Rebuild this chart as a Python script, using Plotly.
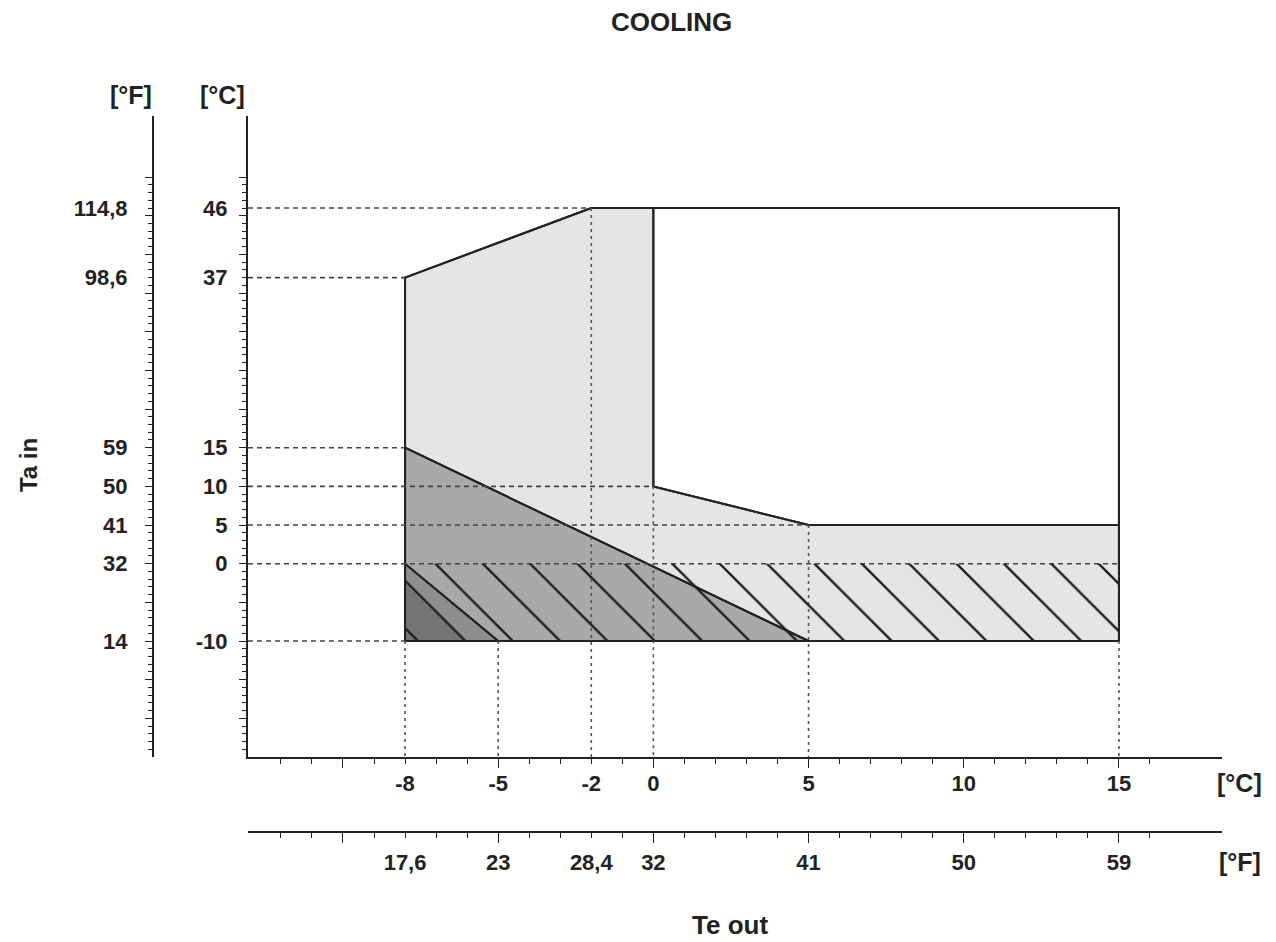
import plotly.graph_objects as go

# ---------------- data ----------------
# tick labels (x: Te out, y: Ta in)
te_c_ticks = [-8, -5, -2, 0, 5, 10, 15]
te_c_labels = ["-8", "-5", "-2", "0", "5", "10", "15"]
te_f_labels = ["17,6", "23", "28,4", "32", "41", "50", "59"]
ta_c_ticks = [46, 37, 15, 10, 5, 0, -10]
ta_c_labels = ["46", "37", "15", "10", "5", "0", "-10"]
ta_f_labels = ["114,8", "98,6", "59", "50", "41", "32", "14"]

te_minor = list(range(-12, 17))
te_major = [-10, -5, 0, 5, 10, 15]
ta_minor = list(range(-24, 51))
ta_major = list(range(-20, 51, 5))

# operating envelope
env_te = [-8, -8, -2, 15, 15, -8]
env_ta = [-10, 37, 46, 46, -10, -10]
# excluded (white) region
white_te = [0, 15, 15, 5, 0, 0]
white_ta = [46, 46, 5, 5, 10, 46]
# medium grey zone
med_te = [-8, 5, -8, -8]
med_ta = [15, -10, -10, 15]
# dark grey zone
dark_te = [-8, -5, -8, -8]
dark_ta = [0, -10, -10, 0]
# darkest zone
darkest_te = [-8, -6.1, -8, -8]
darkest_ta = [-2.6, -10, -10, -2.6]
# hatched zone
hatch_te = [-8, 15, 15, -8, -8]
hatch_ta = [0, 0, -10, -10, 0]

# dashed reference lines
h_ref_ta = [46, 37, 15, 10, 5, 0, -10]
h_ref_te_end = [-2, -8, -8, 0, 5, 15, -8]
v_ref_te = [-8, -5, -2, 0, 5, 15]
v_ref_ta_start = [-10, -10, 46, 10, 5, -10]

X_RANGE = [-13.06, 18.32]
Y_RANGE = [-25.0, 57.9]

# ---------------- figure ----------------
FONT = "Arial, Liberation Sans, sans-serif"
INK = "#222222"
fig = go.Figure()

def poly(xs, ys, fill, lw=2.0):
    fig.add_trace(go.Scatter(
        x=xs, y=ys, mode="lines", fill="toself", fillcolor=fill,
        line=dict(color=INK, width=lw), hoverinfo="skip", showlegend=False))

poly(env_te, env_ta, "#e5e5e6")
poly(white_te, white_ta, "#ffffff")
poly(med_te, med_ta, "#a9a9aa")
poly(dark_te, dark_ta, "#8e8e8f")
poly(darkest_te, darkest_ta, "#757577", lw=0)

# outlines
fig.add_trace(go.Scatter(x=med_te[:2], y=med_ta[:2], mode="lines",
                         line=dict(color=INK, width=2), hoverinfo="skip", showlegend=False))
fig.add_trace(go.Scatter(x=dark_te[:2], y=dark_ta[:2], mode="lines",
                         line=dict(color=INK, width=1.8), hoverinfo="skip", showlegend=False))
fig.add_trace(go.Scatter(x=env_te, y=env_ta, mode="lines",
                         line=dict(color=INK, width=2), hoverinfo="skip", showlegend=False))
fig.add_trace(go.Scatter(x=white_te, y=white_ta, mode="lines",
                         line=dict(color=INK, width=2), hoverinfo="skip", showlegend=False))

# dashed horizontals from the y-axis
hx, hy = [], []
for ta, te_end in zip(h_ref_ta, h_ref_te_end):
    hx += [X_RANGE[0], te_end, None]
    hy += [ta, ta, None]
fig.add_trace(go.Scatter(x=hx, y=hy, mode="lines",
                         line=dict(color="#444444", width=1.6, dash="5px,4px"),
                         hoverinfo="skip", showlegend=False))
# dashed verticals down to the x-axis
vx, vy = [], []
for te, ta0 in zip(v_ref_te, v_ref_ta_start):
    vx += [te, te, None]
    vy += [ta0, Y_RANGE[0], None]
fig.add_trace(go.Scatter(x=vx, y=vy, mode="lines",
                         line=dict(color="#555555", width=1.6, dash="3px,4px"),
                         hoverinfo="skip", showlegend=False))

# dummy traces so the extra axes render
for i in (2, 3, 4):
    fig.add_trace(go.Scatter(x=[None], y=[None], xaxis=f"x{i}", yaxis=f"y{i}",
                             showlegend=False, hoverinfo="skip"))

XDOM = [0.13028, 0.98768]
YDOM = [0.11456, 0.97844]
F_Y_POS = 0.04665
F_X_POS = 0.01348

# hatch drawn in a same-scale helper subplot whose origin is offset,
# so the pattern phase lines up with the reference drawing
PX_PER_C = 31.04
HATCH_SHIFT_PX = 24
paper_w = 1268 - 92 - 40
hatch_xdom = [XDOM[0] + HATCH_SHIFT_PX / paper_w, XDOM[1]]
hatch_xrange = [X_RANGE[0] + HATCH_SHIFT_PX / PX_PER_C, X_RANGE[1]]

fig.add_trace(go.Scatter(
    x=hatch_te, y=hatch_ta, mode="lines", fill="toself",
    xaxis="x5", yaxis="y5",
    fillcolor="rgba(0,0,0,0)",
    fillpattern=dict(shape="\\", fgcolor="#1e1e1e", bgcolor="rgba(0,0,0,0)",
                     size=33.5, solidity=0.07, fillmode="replace"),
    line=dict(width=0), hoverinfo="skip", showlegend=False))

tickfont = dict(family=FONT, size=22, color=INK, weight="bold")
base = dict(showgrid=False, zeroline=False, tickcolor=INK, tickwidth=1.4)

fig.update_layout(
    width=1268, height=934,
    margin=dict(l=92, r=40, t=92, b=100),
    paper_bgcolor="white", plot_bgcolor="rgba(0,0,0,0)",
    showlegend=False,
    xaxis=dict(**base, domain=XDOM, range=X_RANGE, anchor="y",
               showline=True, linecolor=INK, linewidth=2,
               ticks="outside", ticklen=5, tickmode="array",
               tickvals=te_c_ticks, ticktext=te_c_labels, tickfont=tickfont,
               ticklabelstandoff=1,
               minor=dict(tickmode="array", tickvals=te_minor, ticks="outside",
                          ticklen=5, tickwidth=1.2, tickcolor=INK)),
    xaxis2=dict(**base, overlaying="x", anchor="y", range=X_RANGE,
                ticks="outside", ticklen=10, tickmode="array", tickvals=te_major,
                showticklabels=False, showline=False),
    xaxis3=dict(**base, overlaying="x", anchor="free", position=F_X_POS,
                side="bottom", range=X_RANGE,
                showline=True, linecolor=INK, linewidth=2,
                ticks="outside", ticklen=5, tickmode="array",
                tickvals=te_c_ticks, ticktext=te_f_labels, tickfont=tickfont,
                ticklabelstandoff=6,
                minor=dict(tickmode="array", tickvals=te_minor, ticks="outside",
                           ticklen=5, tickwidth=1.2, tickcolor=INK)),
    xaxis4=dict(**base, overlaying="x", anchor="free", position=F_X_POS,
                side="bottom", range=X_RANGE,
                ticks="outside", ticklen=10, tickmode="array", tickvals=te_major,
                showticklabels=False, showline=False),
    xaxis5=dict(domain=hatch_xdom, range=hatch_xrange, anchor="y5", visible=False,
                showgrid=False, zeroline=False),
    yaxis=dict(**base, domain=YDOM, range=Y_RANGE, anchor="x",
               showline=True, linecolor=INK, linewidth=2,
               ticks="outside", ticklen=4, tickmode="array",
               tickvals=ta_c_ticks, ticktext=ta_c_labels, tickfont=tickfont,
               ticklabelstandoff=10,
               minor=dict(tickmode="array", tickvals=ta_minor, ticks="outside",
                          ticklen=4, tickwidth=1.2, tickcolor=INK)),
    yaxis2=dict(**base, overlaying="y", anchor="x", range=Y_RANGE, side="left",
                ticks="outside", ticklen=8, tickmode="array", tickvals=ta_major,
                showticklabels=False, showline=False),
    yaxis3=dict(**base, overlaying="y", anchor="free", position=F_Y_POS,
                side="left", range=Y_RANGE,
                showline=True, linecolor=INK, linewidth=2,
                ticks="outside", ticklen=4, tickmode="array",
                tickvals=ta_c_ticks, ticktext=ta_f_labels, tickfont=tickfont,
                ticklabelstandoff=16,
                minor=dict(tickmode="array", tickvals=ta_minor, ticks="outside",
                           ticklen=4, tickwidth=1.2, tickcolor=INK)),
    yaxis4=dict(**base, overlaying="y", anchor="free", position=F_Y_POS,
                side="left", range=Y_RANGE,
                ticks="outside", ticklen=8, tickmode="array", tickvals=ta_major,
                showticklabels=False, showline=False),
    yaxis5=dict(domain=YDOM, range=Y_RANGE, anchor="x5", visible=False,
                showgrid=False, zeroline=False),
)

def note(text, x, y, size=22, angle=0, bold=True):
    fig.add_annotation(text=f"<b>{text}</b>" if bold else text,
                       x=x, y=y, xref="paper", yref="paper",
                       showarrow=False, textangle=angle,
                       font=dict(family=FONT, size=size, color=INK),
                       xanchor="center", yanchor="middle")

note("COOLING", 0.5035, 1.105, size=26)
note("[°F]", 0.0273, 1.0067, size=25)
note("[°C]", 0.1074, 1.0067, size=25)
note("Ta in", -0.0634, 0.508, size=24, angle=-90)
note("[°C]", 1.0035, 0.0795, size=25)
note("[°F]", 1.0035, -0.027, size=25)
note("Te out", 0.5546, -0.112, size=26)

fig.write_html("out.html")
